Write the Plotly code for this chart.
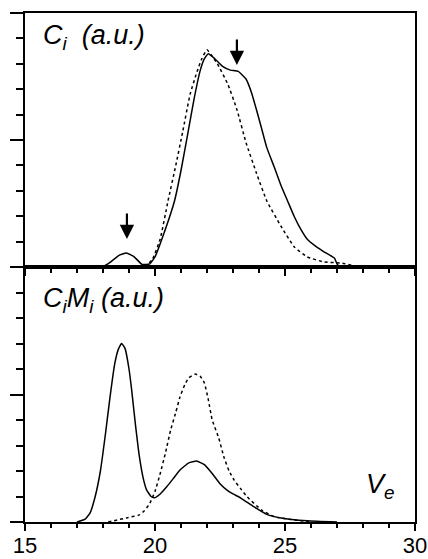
import plotly.graph_objects as go

# ---- data ----
top_solid_x = [18.0, 18.3, 18.6, 18.9, 19.2, 19.5, 19.8, 20.0, 20.3, 20.75, 21.0, 21.27, 21.5, 21.73, 21.9, 22.05, 22.3, 22.6, 22.9, 23.2, 23.5, 23.7, 23.9, 24.1, 24.3, 24.6, 24.85, 25.1, 25.35, 25.6, 25.85, 26.2, 26.5, 26.9, 27.0, 27.1]
top_solid_y = [0.0, 0.02, 0.045, 0.055, 0.04, 0.01, 0.012, 0.04, 0.12, 0.26, 0.38, 0.53, 0.66, 0.77, 0.82, 0.84, 0.82, 0.79, 0.775, 0.77, 0.74, 0.69, 0.62, 0.545, 0.47, 0.39, 0.32, 0.26, 0.20, 0.15, 0.11, 0.08, 0.06, 0.035, 0.012, 0.0]

top_dot_x = [19.6, 19.9, 20.2, 20.5, 20.8, 21.06, 21.35, 21.62, 21.8, 22.0, 22.2, 22.4, 22.8, 23.15, 23.5, 23.9, 24.3, 24.85, 25.35, 25.85, 26.5, 27.2, 27.8]
top_dot_y = [0.0, 0.03, 0.11, 0.26, 0.40, 0.53, 0.68, 0.77, 0.82, 0.855, 0.83, 0.80, 0.72, 0.62, 0.49, 0.37, 0.26, 0.16, 0.08, 0.04, 0.02, 0.015, 0.0]

bot_solid_x = [17.0, 17.3, 17.5, 17.7, 17.9, 18.1, 18.27, 18.45, 18.6, 18.72, 18.85, 19.0, 19.1, 19.25, 19.4, 19.55, 19.68, 19.85, 19.97, 20.2, 20.45, 20.7, 20.96, 21.3, 21.6, 21.9, 22.2, 22.5, 22.77, 23.0, 23.3, 23.8, 24.3, 24.85, 25.85, 27.0]
bot_solid_y = [0.0, 0.01, 0.035, 0.10, 0.20, 0.35, 0.49, 0.62, 0.68, 0.70, 0.68, 0.60, 0.52, 0.38, 0.256, 0.17, 0.125, 0.10, 0.095, 0.11, 0.138, 0.17, 0.204, 0.232, 0.239, 0.225, 0.19, 0.15, 0.125, 0.11, 0.094, 0.06, 0.03, 0.016, 0.005, 0.0]

bot_dot_x = [18.2, 18.9, 19.4, 19.6, 19.8, 20.0, 20.2, 20.4, 20.6, 20.8, 20.96, 21.15, 21.3, 21.55, 21.75, 21.9, 22.05, 22.2, 22.45, 22.65, 22.85, 23.04, 23.3, 23.55, 24.1, 24.6, 25.35, 26.0]
bot_dot_y = [0.0, 0.016, 0.028, 0.045, 0.073, 0.12, 0.19, 0.27, 0.36, 0.43, 0.49, 0.54, 0.565, 0.58, 0.57, 0.545, 0.48, 0.40, 0.33, 0.255, 0.20, 0.165, 0.13, 0.098, 0.047, 0.02, 0.008, 0.0]

arrow_x = [18.92, 23.15]
arrow_y = [0.11, 0.795]

x_tickvals = [15, 20, 25, 30]
x_ticktext = ["15", "20", "25", "30"]

FONT = "Liberation Sans, Arial, sans-serif"

fig = go.Figure()
line_solid = dict(color="black", width=1.5, shape="spline", smoothing=0.4)
line_dot = dict(color="black", width=1.5, dash="3px,3px", shape="spline", smoothing=0.4)

fig.add_trace(go.Scatter(x=top_solid_x, y=top_solid_y, mode="lines", line=line_solid, xaxis="x2", yaxis="y2"))
fig.add_trace(go.Scatter(x=top_dot_x, y=top_dot_y, mode="lines", line=line_dot, xaxis="x2", yaxis="y2"))
fig.add_trace(go.Scatter(x=bot_solid_x, y=bot_solid_y, mode="lines", line=line_solid, xaxis="x", yaxis="y"))
fig.add_trace(go.Scatter(x=bot_dot_x, y=bot_dot_y, mode="lines", line=line_dot, xaxis="x", yaxis="y"))

split = 255 / 509

xcommon = dict(range=[15, 30], showgrid=False, zeroline=False, showline=True, linecolor="black",
               linewidth=2, ticks="outside", ticklen=7, tickwidth=1.5, tickcolor="black",
               tickvals=x_tickvals, ticktext=x_ticktext, automargin=False,
               minor=dict(dtick=1, ticks="outside", ticklen=4, tickwidth=1.5, tickcolor="black"),
               mirror=True)
ycommon = dict(range=[0, 1], showgrid=False, zeroline=False, showline=True, linecolor="black",
               linewidth=2, ticks="outside", ticklen=13, tickwidth=1.5, tickcolor="black",
               tickvals=[0, 0.5, 1.0], showticklabels=False, automargin=False,
               minor=dict(dtick=0.1, ticks="outside", ticklen=7, tickwidth=1.5, tickcolor="black"),
               mirror=True)

fig.update_layout(
    width=428, height=559,
    margin=dict(l=25, r=13, t=13, b=37),
    paper_bgcolor="white", plot_bgcolor="white",
    showlegend=False,
    font=dict(family=FONT, color="black", size=22),
    xaxis=dict(**xcommon, anchor="y", ticklabelstandoff=-4,
               tickfont=dict(size=22, family=FONT, color="black")),
    yaxis=dict(**ycommon, domain=[0, split], anchor="x"),
    xaxis2=dict(**xcommon, anchor="y2", matches="x", showticklabels=False),
    yaxis2=dict(**ycommon, domain=[split, 1], anchor="x2"),
)

annots = [
    dict(text="<i>C<sub>i</sub>&nbsp;&nbsp;(a.u.)</i>", xref="x2 domain", yref="y2 domain",
         x=0.04, y=0.905, xanchor="left", yanchor="middle", showarrow=False,
         font=dict(size=27, family=FONT, color="black")),
    dict(text="<i>C<sub>i</sub>M<sub>i</sub> (a.u.)</i>", xref="x domain", yref="y domain",
         x=0.04, y=0.87, xanchor="left", yanchor="middle", showarrow=False,
         font=dict(size=27, family=FONT, color="black")),
    dict(text="<i>V<sub>e</sub></i>", xref="x domain", yref="y domain",
         x=0.955, y=0.14, xanchor="right", yanchor="middle", showarrow=False,
         font=dict(size=27, family=FONT, color="black")),
]
for ax_, ay_ in zip(arrow_x, arrow_y):
    annots.append(dict(text="", x=ax_, y=ay_, xref="x2", yref="y2", showarrow=True,
                       ax=0, ay=-27, arrowhead=2, arrowsize=1.3, arrowwidth=2.2,
                       arrowcolor="black"))
fig.update_layout(annotations=annots)

fig.write_html("out.html", config={"displayModeBar": False},
               post_script="document.body.style.margin='0';document.body.style.overflow='hidden';")
